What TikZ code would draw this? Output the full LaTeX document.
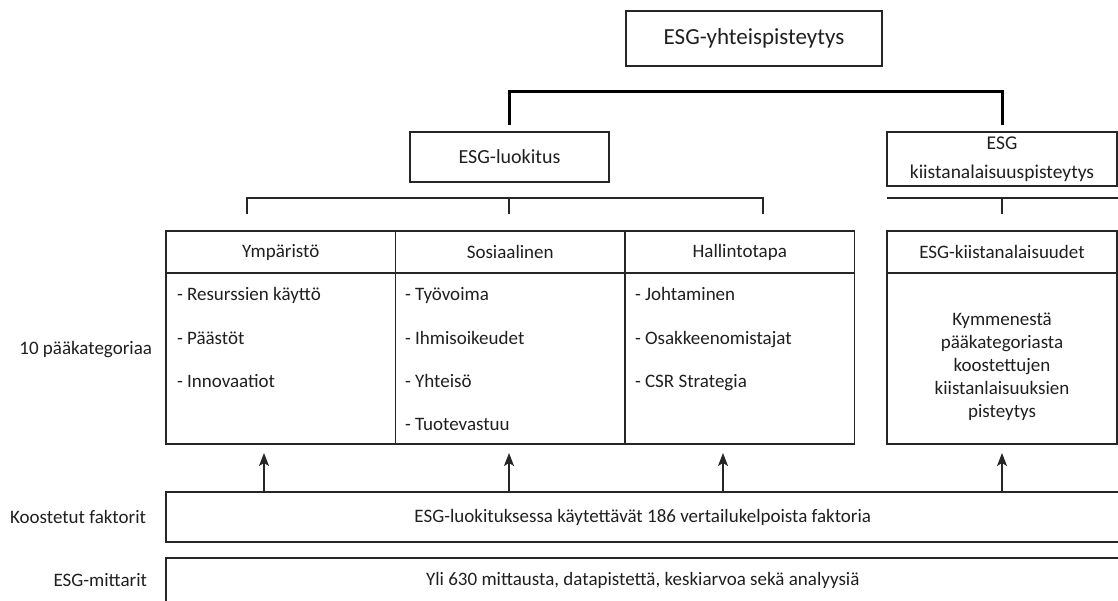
\documentclass[tikz,border=0pt]{standalone}
\usepackage{fontspec}
\setmainfont{Carlito}
\usetikzlibrary{arrows.meta,calc}
\begin{document}
\fontsize{19}{23}\selectfont
\begin{tikzpicture}[x=1pt,y=-1pt,
  every node/.style={inner sep=0pt, outer sep=0pt, text=black!88},
  box/.style={draw=black!85, line width=1.4pt, align=center},
  cell/.style={box, minimum width=229.5pt, minimum height=42pt},
  bodycell/.style={box, minimum width=229.5pt, minimum height=171pt},
  item/.style={anchor=base west},
  lbl/.style={anchor=east},
  conn/.style={draw=black!85, line width=1.4pt},
  heavy/.style={draw=black, line width=3pt},
  arr/.style={conn, -{Stealth[length=13pt,width=10pt,inset=3pt]}, shorten >=9pt},
]
\clip (0,0) rectangle (1118,601);
% top level
\node[box, minimum width=256pt, minimum height=55pt, font=\fontsize{23}{28}\selectfont] (top) at (754,38.5) {ESG-yhteispisteytys};
\node[box, minimum width=199pt, minimum height=50pt, font=\fontsize{20}{24}\selectfont] (luok) at (509.5,157) {ESG-luokitus};
\node[box, minimum width=230pt, minimum height=54pt, font=\fontsize{19.5}{29}\selectfont] (kiist) at (1002,159) {ESG\\kiistanalaisuuspisteytys};
\draw[heavy] ($(luok.north)+(0,-7)$) -- ++(0,-33) -| ($(kiist.north)+(0,-7)$);
% brackets
\coordinate (bl) at (247,214);
\coordinate (bm) at (509,214);
\coordinate (br) at (763,214);
\draw[conn] (bl) -- ++(0,-16) -| (br);
\draw[conn] (bm) -- ++(0,-16);
\coordinate (rl) at (887,198);
\coordinate (rr) at (1118,198);
\coordinate (rm) at (1002,214);
\draw[conn] (rl) -- (rr);
\draw[conn] (rm) -- (rm |- rl);
% main table
\node[cell] (hE) at (280.75,252) {Ympäristö};
\node[cell] (hS) at (510.25,252) {Sosiaalinen};
\node[cell] (hG) at (739.75,252) {Hallintotapa};
\node[bodycell] (bE) at (280.75,358.5) {};
\node[bodycell] (bS) at (510.25,358.5) {};
\node[bodycell] (bG) at (739.75,358.5) {};
\node[cell, minimum width=230pt] (hK) at (1002,252) {ESG-kiistanalaisuudet};
\node[bodycell, minimum width=230pt] (bK) at (1002,358.5) {};
% items
\node[item] (e1) at (177,301) {- Resurssien käyttö};
\node[item] (e2) at (177,344) {- Päästöt};
\node[item] (e3) at (177,387) {- Innovaatiot};
\node[item] (s1) at (405,301) {- Työvoima};
\node[item] (s2) at (405,344) {- Ihmisoikeudet};
\node[item] (s3) at (405,387) {- Yhteisö};
\node[item] (s4) at (405,430) {- Tuotevastuu};
\node[item] (g1) at (635,301) {- Johtaminen};
\node[item] (g2) at (635,344) {- Osakkeenomistajat};
\node[item] (g3) at (635,387) {- CSR Strategia};
\node[align=center] (kt) at (1002,367) {Kymmenestä\\pääkategoriasta\\koostettujen\\kiistanlaisuuksien\\pisteytys};
% bottom boxes
\node[box, minimum width=953.5pt, minimum height=50pt] (kf) at (642.75,517) {ESG-luokituksessa käytettävät 186 vertailukelpoista faktoria};
\node[box, minimum width=953.5pt, minimum height=44.5pt] (em) at (642.75,580.25) {Yli 630 mittausta, datapistettä, keskiarvoa sekä analyysiä};
% arrows
\coordinate (ax1) at (264,0);
\coordinate (ax2) at (509,0);
\coordinate (ax3) at (723,0);
\coordinate (ax4) at (1002,0);
\draw[arr] (ax1 |- kf.north) -- (ax1 |- bE.south);
\draw[arr] (ax2 |- kf.north) -- (ax2 |- bS.south);
\draw[arr] (ax3 |- kf.north) -- (ax3 |- bG.south);
\draw[arr] (ax4 |- kf.north) -- (ax4 |- bK.south);
% left labels
\node[lbl] (l1) at (152,350) {10 pääkategoriaa};
\node[lbl] (l2) at (146,517) {Koostetut faktorit};
\node[lbl] (l3) at (147,580) {ESG-mittarit};
\end{tikzpicture}
\end{document}
